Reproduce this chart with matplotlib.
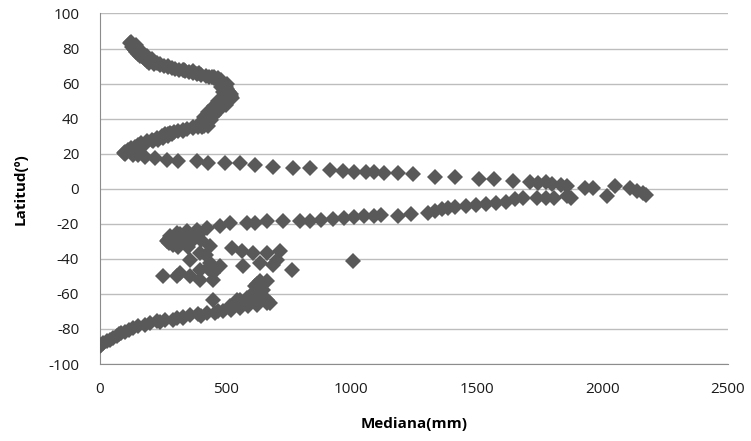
import matplotlib
matplotlib.use("Agg")
import matplotlib.pyplot as plt

# latitude (deg) and median precipitation (mm)
lat_norte = [83.5, 83, 82, 81, 80, 79, 78, 77, 76, 75, 74, 73, 72, 71, 70.5, 70,
             69.5, 69, 68.5, 68, 67.5, 67, 66.5, 66, 65.5, 65, 64.5, 64, 63.5, 63,
             62, 61, 60, 59, 58, 57, 56, 55, 54, 53, 52, 51, 50, 49, 48, 47, 46,
             45, 44, 43, 42, 41, 40, 39, 38, 37, 36, 35.5, 35, 34.5, 34, 33.5, 33,
             32.5, 32, 31.5, 31, 30, 29, 28, 27, 26, 25, 24, 23, 22, 21, 20.5, 20,
             19.5, 19]
med_norte = [125, 120, 130, 128, 135, 138, 145, 150, 160, 170, 180, 185, 195, 215, 240, 255,
             270, 285, 300, 315, 330, 340, 355, 370, 385, 400, 420, 435, 445, 455,
             465, 480, 490, 495, 500, 505, 510, 515, 520, 522, 515, 505, 500, 495, 485, 480, 470,
             462, 455, 448, 440, 436, 430, 425, 420, 415, 412, 405, 390, 370, 345, 330, 310,
             295, 280, 270, 260, 245, 225, 205, 185, 165, 150, 138, 125, 112, 100, 95, 100,
             130, 150]

# second row of points in the same northern band
lat_norte2 = [82, 79, 76, 74, 72, 71, 70, 68, 67, 66, 64, 63, 62, 60, 58, 55, 52,
              50, 48, 47, 45, 44, 42, 41, 39, 38, 36, 35, 33, 31, 30, 29, 28, 27,
              25, 24, 23, 22]
med_norte2 = [145, 160, 185, 205, 225, 240, 270, 335, 370, 395, 455, 470, 480, 505, 480, 490, 525,
              470, 500, 455, 475, 430, 455, 415, 440, 400, 430, 370, 330, 285, 270, 250, 230, 210,
              175, 165, 150, 135]

lat_ecuador = [18.4, 17.5, 16.5, 15.6, 15.6, 14.7, 14.7, 14.7, 13.7, 12.7, 11.8, 11.8,
               10.9, 9.9, 9.8, 9.8, 9.5, 9.2, 9.0, 8.6, 6.8, 6.8, 5.7, 5.7, 4.5, 3.7,
               3.2, 3.6, 2.8, 2.2, 1.6, 0.4, 0.4, 1.3, 0.4, -1.5, -2.5, -3.4, -4.4]
med_ecuador = [179, 219, 267, 311, 386, 430, 498, 557, 617, 689, 769, 836,
               915, 967, 1010, 1058, 1091, 1130, 1186, 1246, 1333, 1413, 1508, 1568, 1644, 1711,
               1745, 1775, 1800, 1835, 1860, 1930, 1964, 2050, 2109, 2136, 2162, 2175, 2017]

lat_sur = [-4.4, -5, -5, -5, -5, -5, -6, -7.4, -7.9, -8.9, -9.3, -9.9, -10.4, -10.8,
           -11.8, -12.8, -13.7, -14.6, -15.6, -15, -15.6, -15.6, -16.2, -16.6, -17.5,
           -17.7, -18.6, -18.6, -18.6, -18.6, -19.5, -19.5, -19.5, -21.5, -22.4, -23.4,
           -24.3, -25.2, -27.2, -30,
           -26, -27, -28, -29, -31, -32, -33, -27.2, -25.2, -28, -30, -31, -32.9, -29, -33.5,
           -33.8, -35.7, -36.6, -36.6, -35.7, -40.5, -46.2, -44.3, -42.3, -43.3, -41.4,
           -36.6, -40.5, -42.3, -44.3, -46.2, -48, -48, -50, -50, -50, -51.9, -51.9, -38, -45,
           -52.8, -52.8, -55.7, -54.6,
           -63.2, -63.2, -62.3, -64.2, -63.2, -61.4, -63.2, -67, -65.1, -65.1, -60, -58]
med_sur = [1857, 1873, 1740, 1775, 1807, 1684, 1651, 1617, 1576, 1536, 1496, 1455, 1415, 1387,
           1361, 1333, 1307, 1239, 1185, 1118, 1091, 1050, 1010, 970, 929,
           880, 836, 796, 730, 663, 617, 584, 517, 478, 425, 385,
           345, 305, 279, 265,
           320, 300, 280, 270, 275, 290, 310, 345, 398, 360, 330, 360, 438, 400, 350,
           524, 564, 610, 663, 716, 703, 763, 570, 637, 690, 1008,
           398, 358, 438, 478, 398, 451, 318, 252, 305, 358, 398, 451, 420, 430,
           637, 663, 617, 624,
           450, 544, 584, 637, 663, 597, 557, 517, 624, 663, 620, 650]

lat_polar = [-65.1, -66.1, -67, -68, -69, -69.9, -70.8, -70.8, -71.5, -71.8, -73, -73.7,
             -74.6, -75, -75.6, -76.5, -77.5, -78.5, -79.4, -80.5, -81.5, -82.2, -83,
             -84.2, -85.1, -86, -87, -87.9, -88.9, -89.9, -76, -72.5, -70, -74]
med_polar = [677, 624, 590, 557, 520, 491, 458, 425, 390, 358, 330, 305,
             292, 260, 226, 200, 180, 150, 133, 115, 100, 85, 75,
             66, 53, 40, 28, 13, 5, 0, 240, 400, 470, 330]

lat = lat_norte + lat_norte2 + lat_ecuador + lat_sur + lat_polar
mediana = med_norte + med_norte2 + med_ecuador + med_sur + med_polar

plt.rcParams['font.family'] = ['Open Sans', 'DejaVu Sans']
plt.rcParams['axes.unicode_minus'] = False

fig = plt.figure(figsize=(7.51, 4.41), dpi=100)
ax = fig.add_axes([0.1332, 0.1745, 0.8362, 0.7949])

ax.plot(mediana, lat, linestyle='none', marker='D', markersize=7.8,
        color='#595959', markeredgewidth=0, zorder=3)

ax.set_xlim(0, 2500)
ax.set_ylim(-100, 100)
ax.set_xticks(range(0, 2501, 500))
ax.set_yticks(range(-100, 101, 20))
ax.grid(axis='y', color='#bdbdbd', linewidth=1)
ax.set_axisbelow(True)
for s in ['top', 'right']:
    ax.spines[s].set_visible(False)
for s in ['left', 'bottom']:
    ax.spines[s].set_color('#8c8c8c')
ax.tick_params(length=0, labelcolor='#1a1a1a', labelsize=11)
ax.tick_params(axis='x', pad=13)
ax.tick_params(axis='y', pad=15)

ax.set_xlabel('Mediana(mm)', fontsize=11, fontweight='bold', labelpad=14)
ax.set_ylabel('Latitud(º)', fontsize=11, fontweight='bold', labelpad=15)

fig.savefig('out.png', dpi=100)
